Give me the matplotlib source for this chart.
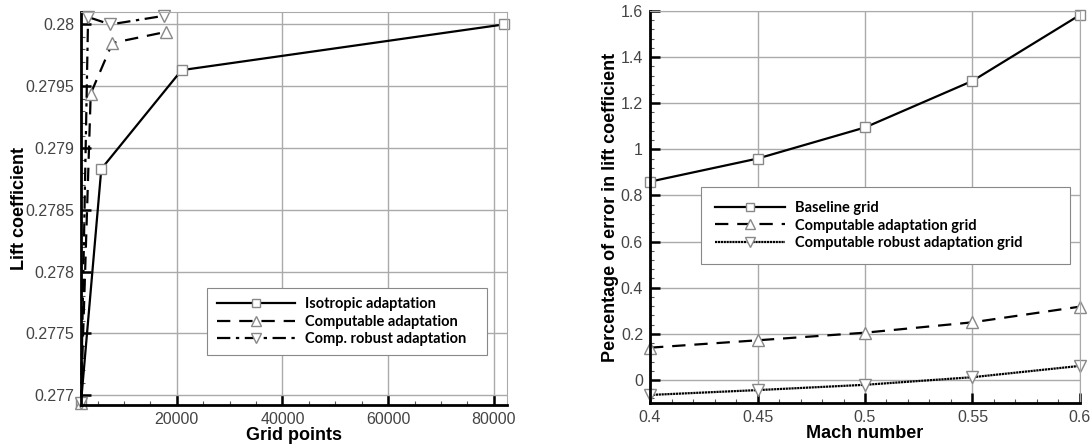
import matplotlib.pyplot as plt
from matplotlib.ticker import MultipleLocator, FuncFormatter

# left panel data: lift coefficient vs grid points
iso_x = [1850, 5700, 20900, 81900]
iso_y = [0.276935, 0.27883, 0.27963, 0.28000]
comp_x = [1850, 3700, 7800, 18000]
comp_y = [0.276935, 0.27944, 0.27985, 0.27994]
rob_x = [1850, 3200, 7400, 17600]
rob_y = [0.276935, 0.28006, 0.28000, 0.28007]

# right panel data: error percentage vs Mach number
mach = [0.4, 0.45, 0.5, 0.55, 0.6]
base_err = [0.86, 0.96, 1.095, 1.297, 1.583]
comp_err = [0.14, 0.172, 0.205, 0.25, 0.318]
rob_err = [-0.065, -0.044, -0.021, 0.012, 0.061]

label_font = {'family': 'Liberation Sans', 'size': 13, 'weight': 'bold'}

fig = plt.figure(figsize=(10.91, 4.44), dpi=100)
ax1 = fig.add_axes([0.0742, 0.0878, 0.3905, 0.885])
ax2 = fig.add_axes([0.5958, 0.0923, 0.3941, 0.8829])

mk = dict(markerfacecolor='white', markeredgecolor='#888888', markeredgewidth=1.0,
          color='black', lw=1.6, clip_on=False)

ax1.plot(iso_x, iso_y, ls='-', marker='s', ms=7, label='Isotropic adaptation', **mk)
ax1.plot(comp_x, comp_y, ls=(0, (6, 4)), marker='^', ms=9, label='Computable adaptation', **mk)
ax1.plot(rob_x, rob_y, ls=(0, (6, 2.5, 1.5, 2.5)), marker='v', ms=9, label='Comp. robust adaptation', **mk)
ax1.set_xlim(1850, 82500)
ax1.set_ylim(0.27692, 0.2801)
ax1.xaxis.set_major_locator(MultipleLocator(20000))
ax1.xaxis.set_minor_locator(MultipleLocator(5000))
ax1.yaxis.set_major_locator(MultipleLocator(0.0005))
ax1.yaxis.set_minor_locator(MultipleLocator(0.0001))
ax1.yaxis.set_major_formatter(FuncFormatter(lambda v, p: '%g' % round(v, 5)))
ax1.set_xlabel('Grid points', fontdict=label_font, labelpad=0)
ax1.set_ylabel('Lift coefficient', fontdict=label_font, labelpad=-2)

ax2.plot(mach, base_err, ls='-', marker='s', ms=7, label='Baseline grid', **mk)
ax2.plot(mach, comp_err, ls=(0, (6, 4)), marker='^', ms=9, label='Computable adaptation grid', **mk)
ax2.plot(mach, rob_err, ls=(0, (1, 0.3)), marker='v', ms=9, label='Computable robust adaptation grid', **mk)
ax2.set_xlim(0.4, 0.6)
ax2.set_ylim(-0.1, 1.6)
ax2.xaxis.set_major_locator(MultipleLocator(0.05))
ax2.xaxis.set_minor_locator(MultipleLocator(0.01))
ax2.yaxis.set_major_locator(MultipleLocator(0.2))
ax2.yaxis.set_minor_locator(MultipleLocator(0.04))
ax2.xaxis.set_major_formatter(FuncFormatter(lambda v, p: '%g' % round(v, 3)))
ax2.yaxis.set_major_formatter(FuncFormatter(lambda v, p: '%g' % round(v, 3)))
ax2.set_xlabel('Mach number', fontdict=label_font, labelpad=0)
ax2.set_ylabel('Percentage of error in lift coefficient', fontdict=label_font, labelpad=1)

for ax in (ax1, ax2):
    ax.grid(True, which='major', color='#aaaaaa', lw=1.0)
    ax.set_axisbelow(True)
    for s in ('left', 'bottom'):
        ax.spines[s].set_linewidth(2.0)
        ax.spines[s].set_color('black')
    for s in ('top', 'right'):
        ax.spines[s].set_linewidth(0.8)
        ax.spines[s].set_color('#aaaaaa')
    ax.tick_params(which='major', direction='in', length=7, width=1.8, color='black',
                   labelcolor='#444444', pad=5)
    ax.tick_params(which='minor', direction='in', length=3, width=0.8, color='#555555')
    for lab in ax.get_xticklabels() + ax.get_yticklabels():
        lab.set_fontfamily('Liberation Sans')
        lab.set_fontsize(11.5)

leg_font = {'family': 'Lato', 'weight': 'bold', 'size': 10.5}
l1 = ax1.legend(loc='upper left', bbox_to_anchor=(0.296, 0.089, 0.657, 0.209), mode='expand',
                borderaxespad=0, prop=leg_font, fancybox=False, edgecolor='#888888', framealpha=1,
                handlelength=5.4, handletextpad=0.7, borderpad=0.65, labelspacing=0.22,
                markerscale=0.75)
l1.get_frame().set_linewidth(0.8)
l2 = ax2.legend(loc='upper left', bbox_to_anchor=(0.119, 0.319, 0.858, 0.232), mode='expand',
                borderaxespad=0, prop=leg_font, fancybox=False, edgecolor='#888888', framealpha=1,
                handlelength=4.8, handletextpad=0.7, borderpad=0.95, labelspacing=0.25,
                markerscale=0.75)
l2.get_frame().set_linewidth(0.8)

fig.savefig('out.png', dpi=100)
